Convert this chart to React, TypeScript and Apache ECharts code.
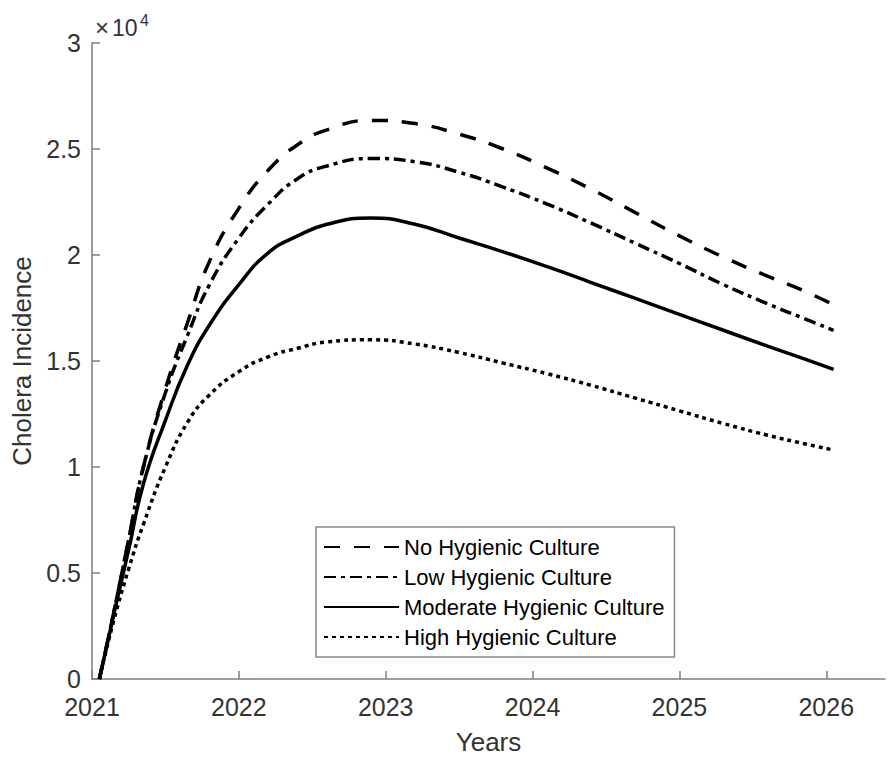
import React, { useEffect, useRef } from "react";
import * as echarts from "echarts";

const years = [2021.05, 2021.15, 2021.25, 2021.35, 2021.5, 2021.65, 2021.8, 2022.0, 2022.2, 2022.4, 2022.6, 2022.9, 2023.2, 2023.5, 2023.8, 2024.1, 2024.4, 2024.7, 2025.0, 2025.3, 2025.6, 2025.85, 2026.05];

// values in units of 10^4
const noHygiene = [0, 0.32, 0.66, 1.0, 1.37, 1.68, 1.97, 2.22, 2.4, 2.52, 2.59, 2.635, 2.62, 2.57, 2.5, 2.41, 2.31, 2.2, 2.09, 1.99, 1.9, 1.83, 1.765];
const lowHygiene = [0, 0.32, 0.66, 1.0, 1.35, 1.62, 1.86, 2.08, 2.24, 2.36, 2.42, 2.455, 2.44, 2.39, 2.32, 2.24, 2.15, 2.055, 1.96, 1.86, 1.77, 1.7, 1.645];
const moderateHygiene = [0, 0.31, 0.61, 0.92, 1.22, 1.48, 1.67, 1.86, 2.01, 2.09, 2.145, 2.175, 2.145, 2.08, 2.015, 1.945, 1.87, 1.795, 1.72, 1.645, 1.57, 1.51, 1.46];
const highHygiene = [0, 0.28, 0.52, 0.73, 1.0, 1.21, 1.34, 1.45, 1.52, 1.56, 1.59, 1.6, 1.58, 1.54, 1.49, 1.44, 1.385, 1.325, 1.265, 1.205, 1.15, 1.11, 1.08];

const seriesNames = ["No Hygienic Culture", "Low Hygienic Culture", "Moderate Hygienic Culture", "High Hygienic Culture"];
const xTicks = [2021, 2022, 2023, 2024, 2025, 2026];
const SCALE = 10000;

const FONT = "Liberation Sans";

function toPairs(vals: number[]) {
  return years.map((t, i) => [t, vals[i] * SCALE]);
}

export default function App() {
  const ref = useRef<HTMLDivElement>(null);
  useEffect(() => {
    if (!ref.current) return;
    const chart = echarts.init(ref.current, undefined, { renderer: "svg" });
    const lw = 3.5;
    const mk = (name: string, vals: number[], type: any) => ({
      name,
      type: "line",
      data: toPairs(vals),
      smooth: true,
      symbol: "none",
      showSymbol: false,
      lineStyle: { color: "#000", width: lw, type, cap: "butt" },
      itemStyle: { color: "#000" },
    });
    chart.setOption({
      animation: false,
      backgroundColor: "#fff",
      title: [
        { text: "×", left: 95, top: 15, padding: 0, textStyle: { fontFamily: FONT, fontSize: 24, fontWeight: "normal", color: "#333" } },
        { text: "10", left: 112, top: 16, padding: 0, textStyle: { fontFamily: FONT, fontSize: 23, fontWeight: "normal", color: "#333" } },
        { text: "4", left: 140, top: 12, padding: 0, textStyle: { fontFamily: FONT, fontSize: 16, fontWeight: "normal", color: "#333" } },
      ],
      grid: { left: 92, top: 43, right: 2, bottom: 77 },
      xAxis: {
        type: "value",
        min: 2021,
        max: 2026.4,
        interval: 1,
        name: "Years",
        nameLocation: "middle",
        nameGap: 50,
        nameTextStyle: { fontFamily: FONT, fontSize: 26, color: "#333" },
        axisLine: { lineStyle: { color: "#7f7f7f", width: 1.5 } },
        axisTick: { inside: true, length: 8, lineStyle: { color: "#7f7f7f", width: 1.5 }, customValues: xTicks },
        axisLabel: { fontFamily: FONT, fontSize: 25, color: "#333", margin: 15, customValues: xTicks, formatter: (v: number) => String(Math.round(v)) },
        splitLine: { show: false },
      },
      yAxis: {
        type: "value",
        min: 0,
        max: 30000,
        interval: 5000,
        name: "Cholera Incidence",
        nameLocation: "middle",
        nameGap: 56,
        nameTextStyle: { fontFamily: FONT, fontSize: 26, color: "#333" },
        axisLine: { show: true, lineStyle: { color: "#7f7f7f", width: 1.5 } },
        axisTick: { show: true, inside: true, length: 8, lineStyle: { color: "#7f7f7f", width: 1.5 } },
        axisLabel: { fontFamily: FONT, fontSize: 25, color: "#333", margin: 11, formatter: (v: number) => String(v / SCALE) },
        splitLine: { show: false },
      },
      legend: {
        orient: "vertical",
        left: 316,
        top: 527,
        data: seriesNames,
        backgroundColor: "#fff",
        borderColor: "#888",
        borderWidth: 1.5,
        borderRadius: 0,
        padding: [8, 10, 8, 7],
        itemGap: 6,
        itemWidth: 75,
        itemHeight: 14,
        itemStyle: { color: "rgba(0,0,0,0)", borderWidth: 0, opacity: 0 },
        textStyle: { fontFamily: FONT, fontSize: 22, color: "#000", lineHeight: 24 },
      },
      series: [
        mk(seriesNames[0], noHygiene, [16, 14]),
        mk(seriesNames[1], lowHygiene, [12, 5, 4, 5]),
        mk(seriesNames[2], moderateHygiene, "solid"),
        mk(seriesNames[3], highHygiene, [4, 4]),
      ],
    });
    return () => chart.dispose();
  }, []);
  return <div ref={ref} style={{ position: "fixed", left: 0, top: 0, width: 887, height: 760 }} />;
}
